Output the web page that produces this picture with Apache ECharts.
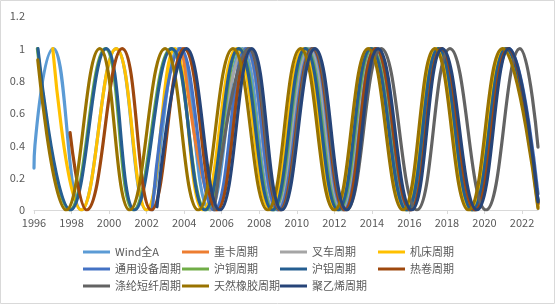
<!DOCTYPE html>
<html>
<head>
<meta charset="utf-8">
<script src="https://cdn.jsdelivr.net/npm/echarts@6/dist/echarts.min.js"></script>
<style>
html,body{margin:0;padding:0;background:#fff;}
#c{width:555px;height:304px;}
</style>
</head>
<body>
<div id="c"></div>
<script>
// ---- data: [year, value] at turning points ----
const xTickYears = [1996,1998,2000,2002,2004,2006,2008,2010,2012,2014,2016,2018,2020,2022];
const yTickValues = [0,0.2,0.4,0.6,0.8,1,1.2];

const seriesNames = ['Wind全A','重卡周期','叉车周期','机床周期','通用设备周期','沪铜周期','沪铝周期','热卷周期','涤纶短纤周期','天然橡胶周期','聚乙烯周期'];

const windA = [[1996.0,0.26],[1996.05,0.4],[1997.03,1],[1998.52,0],[2000.38,1],[2002.0,0],[2003.7,1],[2005.35,0],[2007.1,1],[2008.8,0],[2010.6,1],[2012.35,0],[2014.05,1],[2015.9,0],[2017.55,1],[2019.35,0],[2021.15,1],[2022.85,0.06]];
const zhongka = [[2003.9,1],[2005.7,0],[2007.45,1],[2009.05,0],[2010.8,1],[2012.5,0],[2014.2,1],[2016.05,0],[2017.65,1],[2019.5,0],[2021.25,1],[2022.85,0.04]];
const chache = [[2005.4,0],[2007.25,1],[2008.95,0],[2010.7,1],[2012.45,0],[2014.15,1],[2016.0,0],[2017.65,1],[2019.45,0],[2021.2,1],[2022.85,0.05]];
const jichuang = [[1997.0,1],[1998.52,0],[2000.38,1],[2002.0,0],[2003.5,1],[2005.0,0],[2006.8,1],[2008.6,0],[2010.35,1],[2012.1,0],[2013.9,1],[2015.75,0],[2017.45,1],[2019.25,0],[2021.05,1],[2022.85,0.02]];
const tongyong = [[2002.3,0],[2003.8,1],[2005.6,0],[2007.3,1],[2009.0,0],[2010.8,1],[2012.5,0],[2014.2,1],[2016.0,0],[2017.7,1],[2019.5,0],[2021.3,1],[2022.85,0.1]];
const hutong = [[1996.18,1],[1997.9,0],[1999.8,1],[2001.3,0],[2003.3,1],[2005.15,0],[2006.95,1],[2008.75,0],[2010.5,1],[2012.25,0],[2014.0,1],[2015.85,0],[2017.55,1],[2019.35,0],[2021.15,1],[2022.85,0.05]];
const hulv = [[1996.21,1],[1997.95,0],[1999.85,1],[2001.36,0],[2003.34,1],[2005.1,0],[2006.9,1],[2008.7,0],[2010.45,1],[2012.2,0],[2013.95,1],[2015.85,0],[2017.55,1],[2019.35,0],[2021.15,1],[2022.85,0.06]];
const rejuan = [[1997.92,0.48],[1998.8,0],[2000.7,1],[2002.25,0],[2004.0,1],[2005.75,0],[2007.45,1],[2009.1,0],[2010.85,1],[2012.55,0],[2014.2,1],[2016.05,0],[2017.7,1],[2019.5,0],[2021.25,1],[2022.85,0.04]];
const dilun = [[2005.6,0],[2007.45,1],[2009.15,0],[2010.9,1],[2012.65,0],[2014.5,1],[2016.4,0],[2018.16,1],[2020.08,0],[2021.89,1],[2022.85,0.39]];
const xiangjiao = [[1996.2,0.93],[1997.72,0],[1999.5,1],[2001.1,0],[2002.98,1],[2004.75,0],[2006.6,1],[2008.45,0],[2010.2,1],[2012.0,0],[2013.8,1],[2015.65,0],[2017.35,1],[2019.15,0],[2020.95,1],[2022.85,0.01]];
const juyixi = [[2002.55,0.02],[2004.13,1],[2005.9,0],[2007.6,1],[2009.2,0],[2010.97,1],[2012.66,0],[2014.33,1],[2016.12,0],[2017.75,1],[2019.6,0],[2021.3,1],[2022.85,0.05]];

const seriesData = [windA, zhongka, chache, jichuang, tongyong, hutong, hulv, rejuan, dilun, xiangjiao, juyixi];
const colors = ['#5B9BD5','#ED7D31','#A5A5A5','#FFC000','#4472C4','#70AD47','#255E91','#9E480E','#636363','#997300','#264478'];

const legendCols = [
  ['Wind全A','通用设备周期','涤纶短纤周期'],
  ['重卡周期','沪铜周期','天然橡胶周期'],
  ['叉车周期','沪铝周期','聚乙烯周期'],
  ['机床周期','热卷周期']
];
const legendLeft = [83, 182, 280, 378];

const chart = echarts.init(document.getElementById('c'), null, {renderer:'canvas'});
const font = "'Noto Sans CJK SC', 'Noto Sans', sans-serif";

const option = {
  animation: false,
  color: colors,
  textStyle: {fontFamily: font},
  graphic: [{
    type: 'rect', silent: true,
    shape: {x: 0.5, y: 0.5, width: 554, height: 303},
    style: {fill: 'none', stroke: '#D9D9D9', lineWidth: 1}
  }],
  grid: {left: 34, right: 17, top: 16.3, bottom: 94},
  legend: legendCols.map((col, i) => ({
    orient: 'vertical',
    left: legendLeft[i],
    top: 245,
    padding: 0,
    data: col,
    icon: 'rect',
    itemWidth: 27,
    itemHeight: 3,
    itemGap: 3,
    selectedMode: false,
    textStyle: {color: '#595959', fontSize: 11, lineHeight: 14, fontFamily: font}
  })),
  xAxis: {
    type: 'value',
    min: 1996,
    max: 2022.85,
    splitLine: {show: false},
    axisLine: {lineStyle: {color: '#D9D9D9', width: 1}},
    axisTick: {show: true, customValues: xTickYears, length: 4, lineStyle: {color: '#D9D9D9'}},
    axisLabel: {customValues: xTickYears, color: '#595959', fontSize: 11, margin: 7, fontFamily: font,
      formatter: v => String(Math.round(v))}
  },
  yAxis: {
    type: 'value',
    min: yTickValues[0],
    max: yTickValues[yTickValues.length - 1],
    interval: 0.2,
    splitLine: {show: false},
    axisLine: {show: false},
    axisTick: {show: false},
    axisLabel: {color: '#595959', fontSize: 11, margin: 9, fontFamily: font}
  },
  series: seriesNames.map((name, i) => ({
    name: name,
    type: 'line',
    data: seriesData[i],
    smooth: 0.46,
    showSymbol: false,
    symbol: 'none',
    lineStyle: {width: 3.2, color: colors[i], cap: 'round'},
    itemStyle: {color: colors[i]},
    emphasis: {disabled: true}
  }))
};
chart.setOption(option);
</script>
</body>
</html>
